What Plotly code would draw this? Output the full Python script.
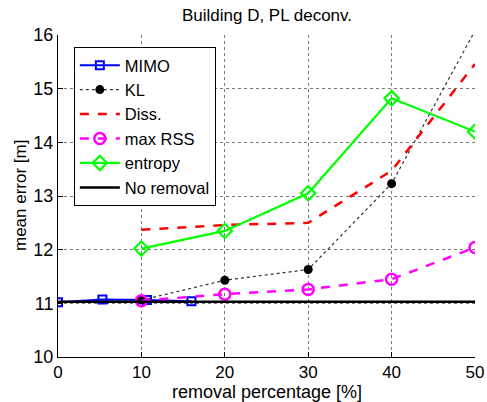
import plotly.graph_objects as go

mimo_x = [0, 5.33, 10.67, 16]
mimo_y = [11.02, 11.07, 11.06, 11.04]

pct = [10, 20, 30, 40, 50]
kl_y = [11.06, 11.43, 11.63, 13.23, 16.08]
diss_y = [12.37, 12.46, 12.50, 13.47, 15.46]
maxrss_y = [11.05, 11.17, 11.26, 11.45, 12.04]
entropy_y = [12.02, 12.35, 13.05, 14.82, 14.20]

norem_x = [0, 50]
norem_y = [11.03, 11.03]

FONT = "Liberation Sans, Arial, sans-serif"

fig = go.Figure()
fig.add_trace(go.Scatter(x=mimo_x, y=mimo_y, name="MIMO", mode="lines+markers",
                         line=dict(color="#0000ff", width=2),
                         marker=dict(symbol="square-open", size=8, color="#0000ff", line=dict(width=2))))
fig.add_trace(go.Scatter(x=pct, y=kl_y, name="KL", mode="lines+markers",
                         line=dict(color="#333333", width=1.2, dash="dot"),
                         marker=dict(symbol="circle", size=9, color="black")))
fig.add_trace(go.Scatter(x=pct, y=diss_y, name="Diss.", mode="lines",
                         line=dict(color="#ff0000", width=2.5, dash="dash")))
fig.add_trace(go.Scatter(x=pct, y=maxrss_y, name="max RSS", mode="lines+markers",
                         line=dict(color="#ff00ff", width=2.5, dash="dash"),
                         marker=dict(symbol="circle-open", size=11, color="#ff00ff", line=dict(width=2.5))))
fig.add_trace(go.Scatter(x=pct, y=entropy_y, name="entropy", mode="lines+markers",
                         line=dict(color="#00ff00", width=2.2),
                         marker=dict(symbol="diamond-open", size=11, color="#00ff00", line=dict(width=2.2))))
fig.add_trace(go.Scatter(x=norem_x, y=norem_y, name="No removal", mode="lines",
                         line=dict(color="black", width=2.5)))

axis_common = dict(showline=True, linecolor="black", linewidth=1, mirror=False,
                   ticks="inside", ticklen=5, tickcolor="black", automargin=False,
                   showgrid=True, gridcolor="#777777", griddash="dot", gridwidth=1,
                   zeroline=False)

fig.update_xaxes(range=[0, 50], dtick=10, tick0=0,
                 tickfont=dict(size=17, color="black", family=FONT), **axis_common)
fig.update_yaxes(range=[10, 16], dtick=1, tick0=10,
                 tickfont=dict(size=18, color="black", family=FONT), **axis_common)

# plot area: 58..475 x, 35..357 y (page px)
fig.add_annotation(text="removal percentage [%]", xref="paper", yref="paper",
                   x=0.5, y=-(392 - 357) / 322, xanchor="center", yanchor="middle", showarrow=False,
                   font=dict(size=18, color="black", family=FONT))
fig.add_annotation(text="mean error [m]", xref="paper", yref="paper",
                   x=-(58 - 20) / 417, y=0.5, xanchor="center", yanchor="middle", showarrow=False,
                   textangle=-90, font=dict(size=17, color="black", family=FONT))

fig.update_layout(
    width=487, height=402,
    margin=dict(l=58, r=12, t=35, b=45),
    paper_bgcolor="white", plot_bgcolor="white",
    font=dict(family=FONT, size=16, color="black"),
    title=dict(text="Building D, PL deconv.", x=267 / 487, xanchor="center",
               y=1 - 15 / 402, yanchor="middle",
               font=dict(size=17, color="black", family=FONT)),
    legend=dict(x=0.038, y=0.963, xanchor="left", yanchor="top",
                bgcolor="white", bordercolor="black", borderwidth=1,
                font=dict(size=16.5, color="black", family=FONT),
                itemwidth=40, tracegroupgap=0),
    showlegend=True,
)

fig.write_html("out.html", config={"displayModeBar": False},
               post_script="document.body.style.margin='0px';document.body.style.overflow='hidden';")
